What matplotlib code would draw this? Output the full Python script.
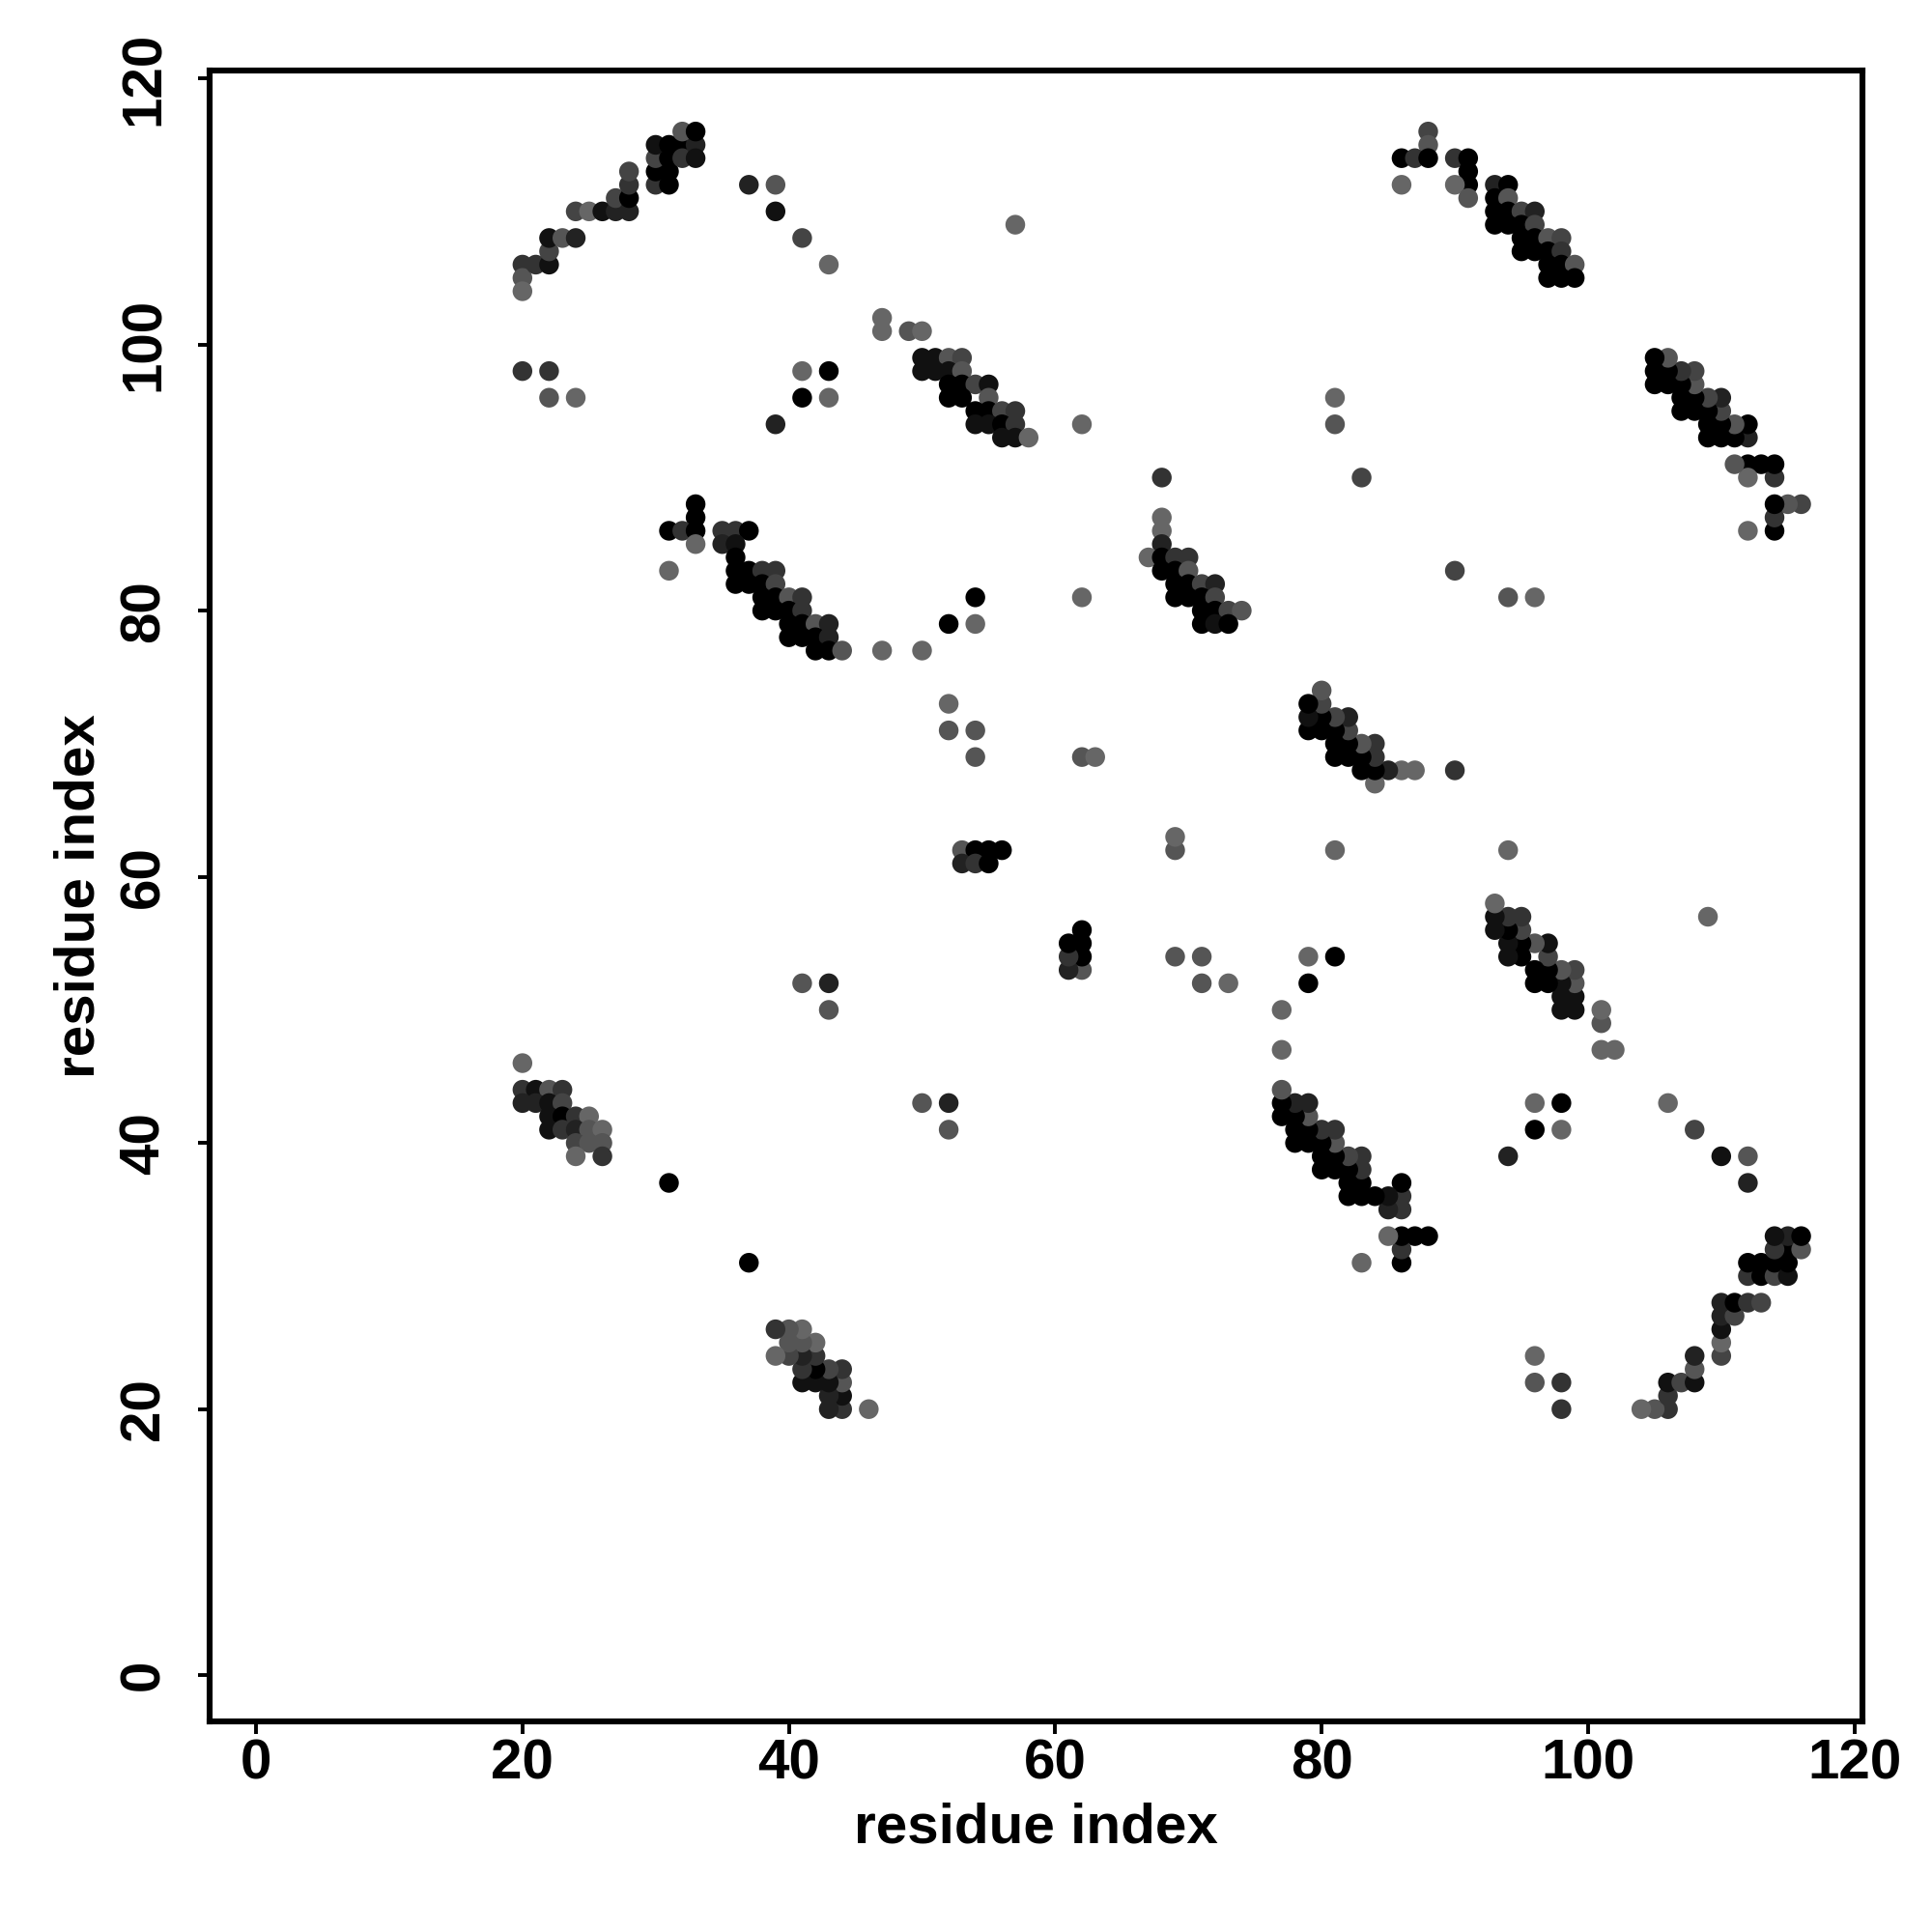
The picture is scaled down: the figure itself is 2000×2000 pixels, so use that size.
import matplotlib
matplotlib.use("Agg")
import matplotlib.pyplot as plt
import numpy as np

# Contacts (upper triangle, i < j); the map is symmetric and both halves are drawn.
# shade: 0 = black ... 6 = lighter gray (reading of the marker grey level)

# cluster near (20-33, 104-116)
a_i = [20, 20, 20, 21, 22, 22, 22, 23, 24, 24, 25, 26, 27, 27, 28, 28, 28, 28, 30, 31, 30, 31, 30, 31, 30, 31, 32, 32, 33, 33, 32, 33]
a_j = [106, 105, 104, 106, 106, 107, 108, 108, 108, 110, 110, 110, 110, 111, 110, 111, 112, 113, 112, 112, 113, 113, 114, 114, 115, 115, 115, 114, 115, 114, 116, 116]
a_s = [3, 5, 6, 3, 1, 4, 1, 5, 2, 4, 6, 1, 2, 4, 2, 0, 3, 4, 3, 0, 0, 0, 4, 0, 1, 0, 0, 3, 2, 1, 5, 0]

# scattered contacts near the top
b_i = [37, 39, 39, 41, 43, 47, 47, 49, 50, 20, 22, 22, 24, 41, 43, 41, 43, 39]
b_j = [112, 112, 110, 108, 106, 102, 101, 101, 101, 98, 98, 96, 96, 98, 98, 96, 96, 94]
b_s = [2, 5, 1, 4, 6, 6, 6, 5, 6, 3, 3, 5, 6, 6, 0, 0, 6, 2]

# cluster near (50-58, 93-99)
c_i = [50, 51, 52, 53, 50, 51, 52, 53, 52, 53, 54, 55, 52, 53, 55, 54, 55, 56, 57, 54, 55, 56, 57, 56, 57, 58]
c_j = [99, 99, 99, 99, 98, 98, 98, 98, 97, 97, 97, 97, 96, 96, 96, 95, 95, 95, 95, 94, 94, 94, 94, 93, 93, 93]
c_s = [1, 1, 5, 4, 1, 1, 1, 5, 0, 0, 4, 1, 0, 0, 5, 0, 0, 4, 3, 1, 1, 0, 3, 1, 1, 6]

# isolated contacts
m_i = [57, 62, 68, 83, 81, 81, 68, 68, 62, 62, 63, 31, 41, 43, 43]
m_j = [109, 94, 90, 90, 96, 94, 87, 86, 81, 69, 69, 37, 52, 52, 50]
m_s = [6, 6, 3, 4, 6, 5, 6, 6, 6, 5, 6, 0, 5, 2, 5]

# cluster near (31-44, 77-88)
d_i = [33, 33, 31, 32, 33, 35, 36, 37, 33, 35, 36, 36, 31, 36, 37, 38, 39, 36, 37, 38, 39, 38, 39, 40, 41, 38, 39, 40, 41, 40, 41, 42, 43, 40, 41, 42, 43, 42, 43, 44, 47, 50]
d_j = [88, 87, 86, 86, 86, 86, 86, 86, 85, 85, 85, 84, 83, 83, 83, 83, 83, 82, 82, 82, 82, 81, 81, 81, 81, 80, 80, 80, 80, 79, 79, 79, 79, 78, 78, 78, 78, 77, 77, 77, 77, 77]
d_s = [0, 0, 0, 3, 0, 3, 3, 0, 6, 2, 1, 0, 6, 0, 0, 3, 3, 0, 0, 0, 4, 0, 0, 5, 3, 0, 0, 0, 3, 0, 0, 5, 2, 0, 0, 0, 2, 0, 0, 5, 6, 6]

# contacts near (52-54, 69-81)
g_i = [52, 54, 54, 52, 52, 54, 54]
g_j = [79, 81, 79, 73, 71, 71, 69]
g_s = [0, 0, 6, 6, 5, 5, 5]

# cluster near (67-74, 79-85)
h_i = [68, 67, 68, 69, 70, 68, 69, 70, 69, 70, 71, 72, 69, 70, 71, 72, 71, 72, 73, 74, 71, 72, 73]
h_j = [85, 84, 84, 84, 84, 83, 83, 83, 82, 82, 82, 82, 81, 81, 81, 81, 80, 80, 80, 80, 79, 79, 79]
h_s = [2, 6, 0, 3, 3, 0, 0, 5, 0, 0, 4, 2, 0, 0, 0, 4, 0, 0, 4, 5, 0, 1, 0]

# cluster near (53-56, 61-62)
k_i = [53, 54, 55, 56, 53, 54, 55]
k_j = [62, 62, 62, 62, 61, 61, 61]
k_s = [5, 0, 0, 0, 2, 3, 0]

# cluster near (20-26, 39-46)
e_i = [20, 20, 21, 22, 23, 20, 21, 22, 23, 22, 23, 24, 25, 22, 23, 24, 25, 26, 24, 25, 26, 24, 26]
e_j = [46, 44, 44, 44, 44, 43, 43, 43, 43, 42, 42, 42, 42, 41, 41, 41, 41, 41, 40, 40, 40, 39, 39]
e_s = [6, 3, 1, 5, 3, 2, 2, 1, 4, 1, 0, 3, 6, 1, 3, 2, 5, 6, 4, 5, 5, 6, 3]

# cluster near (86-99, 105-116)
q_i = [88, 88, 86, 87, 88, 86, 90, 91, 91, 91, 90, 91, 93, 94, 93, 94, 93, 94, 95, 96, 93, 94, 95, 96, 95, 96, 97, 98, 95, 96, 97, 98, 97, 98, 99, 97, 98, 99]
q_j = [116, 115, 114, 114, 114, 112, 114, 114, 113, 112, 112, 111, 112, 112, 111, 111, 110, 110, 110, 110, 109, 109, 109, 109, 108, 108, 108, 108, 107, 107, 107, 107, 106, 106, 106, 105, 105, 105]
q_s = [4, 5, 0, 3, 0, 6, 3, 0, 0, 0, 6, 5, 2, 0, 0, 5, 0, 0, 4, 2, 0, 0, 0, 4, 0, 0, 5, 4, 0, 0, 0, 3, 0, 0, 5, 0, 0, 0]

xticks = [0, 20, 40, 60, 80, 100, 120]
yticks = [0, 20, 40, 60, 80, 100, 120]
xlabel = "residue index"
ylabel = "residue index"

res_i = np.array(a_i + b_i + c_i + m_i + d_i + g_i + h_i + k_i + e_i + q_i)
res_j = np.array(a_j + b_j + c_j + m_j + d_j + g_j + h_j + k_j + e_j + q_j)
shade = np.array(a_s + b_s + c_s + m_s + d_s + g_s + h_s + k_s + e_s + q_s)

grey = shade / 6.0 * 0.40
colors = [(g, g, g) for g in grey]

plt.rcParams['font.family'] = ['Liberation Sans', 'DejaVu Sans']
fig = plt.figure(figsize=(10, 10), dpi=200)
ax = fig.add_axes([0.1084, 0.1091, 0.8556, 0.8545])

ax.scatter(res_i, res_j, s=54, c=colors, edgecolors='none', zorder=3)
ax.scatter(res_j, res_i, s=54, c=colors, edgecolors='none', zorder=3)

ax.set_xlim(-3.5, 120.6)
ax.set_ylim(-3.45, 120.6)
ax.set_xticks(xticks)
ax.set_yticks(yticks)
ax.set_xticklabels([str(t) for t in xticks], fontsize=21, fontweight='bold')
ax.set_yticklabels([str(t) for t in yticks], fontsize=21, fontweight='bold',
                   rotation=90, va='center')
for sp in ax.spines.values():
    sp.set_linewidth(2.2)
ax.tick_params(axis='both', length=4.5, width=1.4, direction='out')
ax.tick_params(axis='x', pad=2)
ax.tick_params(axis='y', pad=10)

fig.text(0.536, 1 - 1892 / 2000, xlabel, ha='center', va='center',
         fontsize=21, fontweight='bold')
fig.text(83 / 2000, 1 - 928 / 2000, ylabel, ha='center', va='center',
         fontsize=21, fontweight='bold', rotation=90)

fig.savefig("out.png", dpi=200)
